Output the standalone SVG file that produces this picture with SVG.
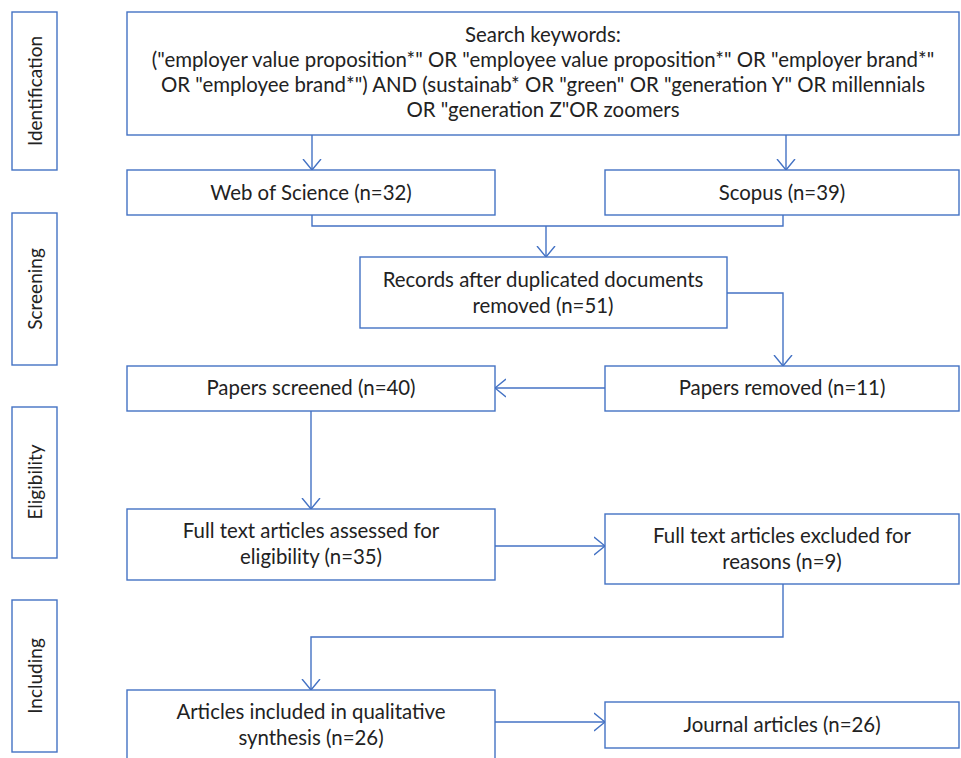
<svg xmlns="http://www.w3.org/2000/svg" width="961" height="758" viewBox="0 0 961 758">
<style>
  .box{fill:#fff;stroke:#4472C4;stroke-width:1.4}
  .t{font-family:Lato,"Open Sans","Liberation Sans",sans-serif;font-size:20.4px;fill:#222;text-anchor:middle}
  .s{font-size:19px}
  .c{fill:none;stroke:#4472C4;stroke-width:1.4}
</style>
<defs>
  <marker id="ah" viewBox="0 0 12 20" refX="11" refY="10" markerWidth="12" markerHeight="20" markerUnits="userSpaceOnUse" orient="auto">
    <path d="M0,1 L11,10 L0,19" fill="none" stroke="#4472C4" stroke-width="1.4"/>
  </marker>
</defs>
<rect width="961" height="758" fill="#fff"/>
<g id="stage-identification"><rect class="box" x="12" y="12" width="45" height="158"/><text class="t s" transform="translate(42,91) rotate(-90)">Identification</text></g>
<g id="stage-screening"><rect class="box" x="12" y="213" width="45" height="152"/><text class="t s" transform="translate(42,289) rotate(-90)">Screening</text></g>
<g id="stage-eligibility"><rect class="box" x="12" y="407" width="45" height="151"/><text class="t s" transform="translate(42,482) rotate(-90)">Eligibility</text></g>
<g id="stage-including"><rect class="box" x="12" y="600" width="45" height="152"/><text class="t s" transform="translate(42,676) rotate(-90)">Including</text></g>

<g id="connectors">
  <path class="c" d="M312,135 V170" marker-end="url(#ah)"/>
  <path class="c" d="M786,135 V170" marker-end="url(#ah)"/>
  <path class="c" d="M312,215 V226 H783 V215"/>
  <path class="c" d="M546,226 V257" marker-end="url(#ah)"/>
  <path class="c" d="M727,293 H783 V366" marker-end="url(#ah)"/>
  <path class="c" d="M605,388 H495" marker-end="url(#ah)"/>
  <path class="c" d="M311,411 V509" marker-end="url(#ah)"/>
  <path class="c" d="M495,546 H605" marker-end="url(#ah)"/>
  <path class="c" d="M783,584 V637 H311 V690" marker-end="url(#ah)"/>
  <path class="c" d="M495,722 H605" marker-end="url(#ah)"/>
</g>

<g id="search"><rect class="box" x="127" y="12" width="832" height="123"/>
  <text class="t" x="543" y="42">Search keywords:</text>
  <text class="t" x="543" y="67">("employer value proposition*" OR "employee value proposition*" OR "employer brand*"</text>
  <text class="t" x="543" y="92">OR "employee brand*") AND (sustainab* OR "green" OR "generation Y" OR millennials</text>
  <text class="t" x="543" y="117">OR "generation Z"OR zoomers</text>
</g>
<g id="wos"><rect class="box" x="127" y="170" width="368" height="45"/><text class="t" x="311" y="200">Web of Science (n=32)</text></g>
<g id="scopus"><rect class="box" x="605" y="170" width="354" height="45"/><text class="t" x="782" y="200">Scopus (n=39)</text></g>
<g id="records"><rect class="box" x="360" y="257" width="367" height="71"/>
  <text class="t" x="543" y="287">Records after duplicated documents</text>
  <text class="t" x="543" y="313">removed (n=51)</text></g>
<g id="screened"><rect class="box" x="127" y="366" width="368" height="45"/><text class="t" x="311" y="395">Papers screened (n=40)</text></g>
<g id="removed"><rect class="box" x="605" y="366" width="354" height="45"/><text class="t" x="782" y="395">Papers removed (n=11)</text></g>
<g id="assessed"><rect class="box" x="127" y="509" width="368" height="71"/>
  <text class="t" x="311" y="538">Full text articles assessed for</text>
  <text class="t" x="311" y="564">eligibility (n=35)</text></g>
<g id="excluded"><rect class="box" x="605" y="514" width="354" height="70"/>
  <text class="t" x="782" y="543">Full text articles excluded for</text>
  <text class="t" x="782" y="569">reasons (n=9)</text></g>
<g id="included"><rect class="box" x="127" y="690" width="368" height="80"/>
  <text class="t" x="311" y="719">Articles included in qualitative</text>
  <text class="t" x="311" y="745">synthesis (n=26)</text></g>
<g id="journal"><rect class="box" x="605" y="702" width="354" height="46"/><text class="t" x="782" y="732">Journal articles (n=26)</text></g>
</svg>
